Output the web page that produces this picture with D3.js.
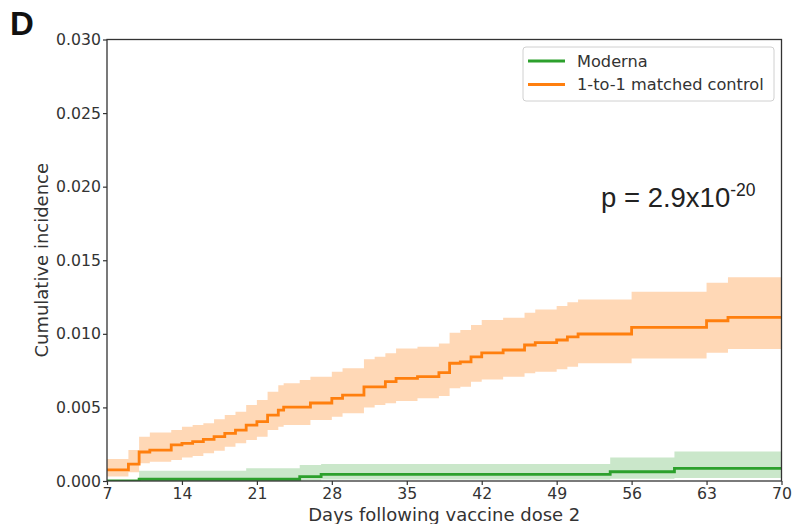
<!DOCTYPE html>
<html>
<head>
<meta charset="utf-8">
<script src="https://cdn.jsdelivr.net/npm/d3@7"></script>
<style>
  html, body { margin: 0; padding: 0; background: #fff; }
  svg { display: block; }
</style>
</head>
<body>
<svg id="chart" width="792" height="524"></svg>
<script>
// Kaplan-Meier style cumulative incidence, step changes by day
const controlDays  = [7, 9, 10, 11, 13, 14, 15, 16, 17, 18, 19, 20, 21, 22, 23, 23.5, 25, 26, 28, 29, 31, 32, 33, 34, 36, 38, 39, 40, 41, 42, 44, 46, 47, 49, 50, 51, 56, 63, 65];
const controlValue = [0.00075, 0.00115, 0.00197, 0.0021, 0.00245, 0.00256, 0.00267, 0.00283, 0.00301, 0.00324, 0.00346, 0.0038, 0.00403, 0.00448, 0.00482, 0.00502, 0.00502, 0.0053, 0.00562, 0.00584, 0.0064, 0.0064, 0.00675, 0.00698, 0.00709, 0.00736, 0.008, 0.0081, 0.00844, 0.0087, 0.0089, 0.00924, 0.0094, 0.00958, 0.0098, 0.00999, 0.01044, 0.01089, 0.01112];
const controlLower = [0.0003, 0.0006, 0.0012, 0.0013, 0.00143, 0.0016, 0.0017, 0.00188, 0.00206, 0.00233, 0.00256, 0.00279, 0.003, 0.00346, 0.00369, 0.0038, 0.0038, 0.00414, 0.00437, 0.0046, 0.005, 0.00516, 0.00528, 0.00543, 0.00562, 0.00577, 0.0063, 0.0064, 0.00675, 0.0069, 0.00709, 0.00732, 0.00743, 0.00759, 0.00777, 0.008, 0.00833, 0.00872, 0.00897];
const controlUpper = [0.0015, 0.0021, 0.003, 0.0033, 0.00346, 0.00369, 0.0038, 0.00392, 0.00419, 0.00448, 0.0047, 0.00516, 0.0055, 0.00607, 0.0065, 0.00664, 0.00686, 0.00709, 0.00743, 0.00766, 0.00827, 0.00845, 0.00868, 0.00901, 0.00912, 0.00935, 0.01007, 0.01026, 0.0106, 0.01094, 0.0111, 0.01144, 0.01166, 0.01189, 0.01214, 0.01234, 0.01286, 0.01347, 0.01384];

const modernaDays  = [7, 10, 20, 25, 27, 54, 60];
const modernaValue = [0, 0.00012, 0.00012, 0.0003, 0.00045, 0.00063, 0.00086];
const modernaLower = [0, 0, 0, 0.00003, 0.0001, 0.00015, 0.0002];
const modernaUpper = [0, 0.0007, 0.00086, 0.00109, 0.00115, 0.0016, 0.002];

const xTicks = [7, 14, 21, 28, 35, 42, 49, 56, 63, 70];
const yTicks = [0, 0.005, 0.010, 0.015, 0.020, 0.025, 0.030];
const seriesNames = ["Moderna", "1-to-1 matched control"];
const lastDay = 70;

const width = 792, height = 524;
const margin = { top: 39.5, right: 10.5, bottom: 43, left: 107 };
const svg = d3.select("#chart");
const plotW = width - margin.left - margin.right;
const plotH = height - margin.top - margin.bottom;

const x = d3.scaleLinear().domain([7, 70]).range([margin.left, margin.left + plotW]);
const y = d3.scaleLinear().domain([0, 0.030]).range([margin.top + plotH, margin.top]);

function toRows(days, v, lo, hi) {
  const rows = days.map((d, i) => ({ day: d, v: v[i], lo: lo[i], hi: hi[i] }));
  const last = rows[rows.length - 1];
  rows.push({ day: lastDay, v: last.v, lo: last.lo, hi: last.hi });
  return rows;
}

const control = toRows(controlDays, controlValue, controlLower, controlUpper);
const moderna = toRows(modernaDays, modernaValue, modernaLower, modernaUpper);

svg.append("defs").append("clipPath").attr("id", "plotClip")
  .append("rect").attr("x", margin.left).attr("y", margin.top).attr("width", plotW).attr("height", plotH);

const plot = svg.append("g").attr("clip-path", "url(#plotClip)");

const band = d3.area().curve(d3.curveStepAfter)
  .x(d => x(d.day)).y0(d => y(d.lo)).y1(d => y(d.hi));
const line = d3.line().curve(d3.curveStepAfter)
  .x(d => x(d.day)).y(d => y(d.v));

const green = "#2ca02c", orange = "#ff7f0e";

plot.append("path").datum(moderna).attr("d", band)
  .attr("fill", green).attr("fill-opacity", 0.25);
plot.append("path").datum(control).attr("d", band)
  .attr("fill", orange).attr("fill-opacity", 0.3);
plot.append("path").datum(moderna).attr("d", line)
  .attr("fill", "none").attr("stroke", green).attr("stroke-width", 2.8);
plot.append("path").datum(control).attr("d", line)
  .attr("fill", "none").attr("stroke", orange).attr("stroke-width", 2.8);

// Axes
const tickFont = "DejaVu Sans, sans-serif";
const xAxis = svg.append("g").attr("transform", `translate(0,${margin.top + plotH})`)
  .call(d3.axisBottom(x).tickValues(xTicks).tickSize(4).tickPadding(3).tickFormat(d3.format("d")));
const yAxis = svg.append("g").attr("transform", `translate(${margin.left},0)`)
  .call(d3.axisLeft(y).tickValues(yTicks).tickSize(4).tickPadding(2).tickFormat(d3.format(".3f")));

[xAxis, yAxis].forEach(g => {
  g.select(".domain").remove();
  g.selectAll(".tick line").attr("stroke", "#333").attr("stroke-width", 1.2);
  g.selectAll(".tick text").attr("fill", "#333").style("font-family", tickFont).style("font-size", "15.7px");
});

// Frame
svg.append("rect").attr("x", margin.left).attr("y", margin.top)
  .attr("width", plotW).attr("height", plotH)
  .attr("fill", "none").attr("stroke", "#333").attr("stroke-width", 1.3);

// Axis titles
svg.append("text").attr("x", margin.left + plotW / 2).attr("y", 521)
  .attr("text-anchor", "middle").attr("fill", "#333")
  .style("font-family", tickFont).style("font-size", "18px")
  .text("Days following vaccine dose 2");
svg.append("text")
  .attr("transform", `translate(48,${margin.top + plotH / 2}) rotate(-90)`)
  .attr("text-anchor", "middle").attr("fill", "#333")
  .style("font-family", tickFont).style("font-size", "18px")
  .text("Cumulative incidence");

// Legend
const legend = svg.append("g");
legend.append("rect").attr("x", 523).attr("y", 47).attr("width", 251).attr("height", 54)
  .attr("rx", 3).attr("fill", "#fff").attr("stroke", "#d0d0d0").attr("stroke-width", 1);
[green, orange].forEach((c, i) => {
  const ly = 61 + i * 23.5;
  legend.append("line").attr("x1", 528).attr("x2", 565).attr("y1", ly).attr("y2", ly)
    .attr("stroke", c).attr("stroke-width", 2.8);
  legend.append("text").attr("x", 577).attr("y", ly + 5.5).attr("fill", "#333")
    .style("font-family", tickFont).style("font-size", "16.2px")
    .text(seriesNames[i]);
});

// p-value annotation
const pText = svg.append("text").attr("x", 601).attr("y", 207)
  .attr("fill", "#222").style("font-family", "Liberation Sans, Arial, sans-serif").style("font-size", "27.5px");
pText.append("tspan").text("p = 2.9x10");
pText.append("tspan").attr("dy", -11).style("font-size", "17.5px").text("-20");

// Panel letter
svg.append("text").attr("x", 10).attr("y", 35)
  .attr("fill", "#111").style("font-family", "Liberation Sans, Arial, sans-serif")
  .style("font-size", "33px").style("font-weight", "bold").text("D");
</script>
</body>
</html>
